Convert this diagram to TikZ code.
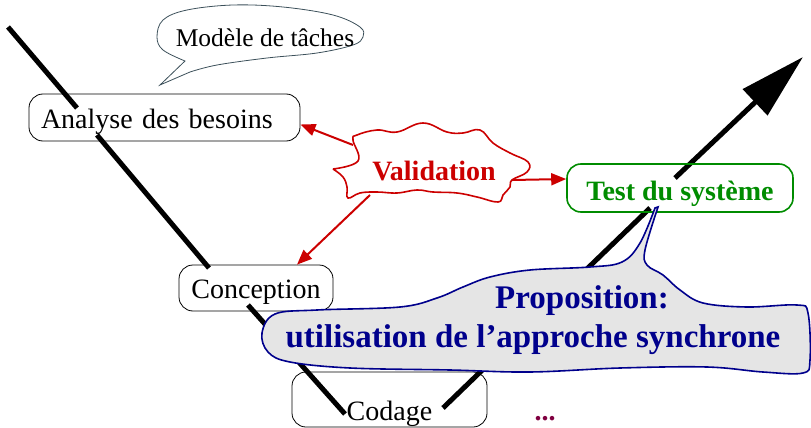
\documentclass[tikz,border=0pt]{standalone}
\usepackage{fontspec}
\setmainfont{Liberation Serif}
\usetikzlibrary{arrows.meta,calc}
\definecolor{vred}{RGB}{204,0,0}
\definecolor{tgreen}{RGB}{0,140,0}
\definecolor{pnavy}{RGB}{0,0,140}
\definecolor{pfill}{RGB}{229,229,229}
\definecolor{bubbleline}{RGB}{60,80,90}
\definecolor{dotcol}{RGB}{128,0,64}
\begin{document}
\begin{tikzpicture}[x=1pt,y=-1pt,
  vline/.style={line width=5pt, black},
  stepbox/.style={draw, rounded corners=14pt, line width=0.8pt, inner sep=0pt,
    font=\fontsize{28}{30}\selectfont, text height=24pt, text depth=3pt},
  redarrow/.style={vred, line width=2pt, -{Triangle[length=15pt,width=12pt]}},
  bigfont/.style={font=\fontsize{28}{30}\selectfont\bfseries},
  propfont/.style={font=\fontsize{33}{36}\selectfont\bfseries, text=pnavy, anchor=base, inner sep=0pt},
]
\useasboundingbox (0,0) rectangle (811,428);

% V-shaped cycle lines
\draw[vline] (8,27) -- (77,108);
\draw[vline] (97,135) -- (209,268);
\draw[vline] (248,305) -- (345,414);
\draw[vline] (443,408) -- (650,208);
\draw[vline, -{Triangle[length=66pt,width=35pt]}] (675,178) -- (803,57);

% step boxes
\node[stepbox, minimum height=47pt, text width=247pt, align=left, inner xsep=12pt] (analyse) at (164.5,117.5) {Analyse des besoins};
\node[stepbox, minimum width=154pt, minimum height=46pt] (conception) at (256,288) {Conception};
\node[stepbox, minimum width=195pt, minimum height=55pt, text height=44pt] (codage) at (389.5,399.5) {Codage};
\node[stepbox, draw=tgreen, line width=1.6pt, text=tgreen, bigfont, minimum width=226pt, minimum height=48pt, text height=27pt] (test) at (680,188) {Test du système};

% Validation cloud
\draw[vred, line width=1.6pt, fill=white] plot[smooth, tension=0.7] coordinates {(333,169) (358,161) (353,140) (357,135) (377,130) (397,132) (423,123) (447,132) (463,133) (480,130) (493,143) (510,153) (528,162) (527,172) (512,180) (510,187) (503,195) (498,202) (477,197) (457,193) (433,192) (417,190) (397,193) (377,192) (360,193) (348,198) (347,187) (343,177) (333,169)};
\node[bigfont, text=vred, anchor=base, inner sep=0pt] (validation) at (434,180) {Validation};
\coordinate (v1) at (353,145);
\coordinate (v2) at (512,180);
\coordinate (v3) at (370,195);
\draw[redarrow] (v1) -- ([yshift=-7pt]analyse.east);
\draw[redarrow] (v2) -- ([yshift=9pt]test.west);
\draw[redarrow] (v3) -- ([xshift=41pt]conception.north);

% Modele de taches bubble
\draw[bubbleline, line width=0.8pt] (160,85) -- plot[smooth, tension=0.6] coordinates {(185,61) (163,50) (157,37) (163,20) (187,10) (233,5) (283,7) (333,15) (360,27) (363,37) (353,45) (317,53) (267,58) (217,65) (190,72)} -- cycle;
\node[font=\fontsize{25.5}{28}\selectfont, anchor=base, inner sep=0pt] (modele) at (265,47) {Modèle de tâches};

% Proposition callout
\draw[pnavy, fill=pfill, line width=1.6pt] plot[smooth, tension=0.6] coordinates {(655,208) (640,243) (622,262) (590,267) (530,270) (490,277) (463,287) (437,298) (400,307) (317,310) (275,314) (262,333) (268,352) (290,362) (350,368) (450,370) (530,372) (620,368) (707,367) (763,372) (803,373) (810,360) (808,313) (797,305) (747,307) (703,303) (680,290) (663,275) (647,265) (645,250) (658,207)} -- cycle;
\node[propfont] (prop1) at (582,308) {Proposition:};
\node[propfont] (prop2) at (533,347) {utilisation de l’approche synchrone};

% dots
\node[bigfont, text=dotcol, anchor=base, inner sep=0pt] (dots) at (545,420) {...};
\end{tikzpicture}
\end{document}
